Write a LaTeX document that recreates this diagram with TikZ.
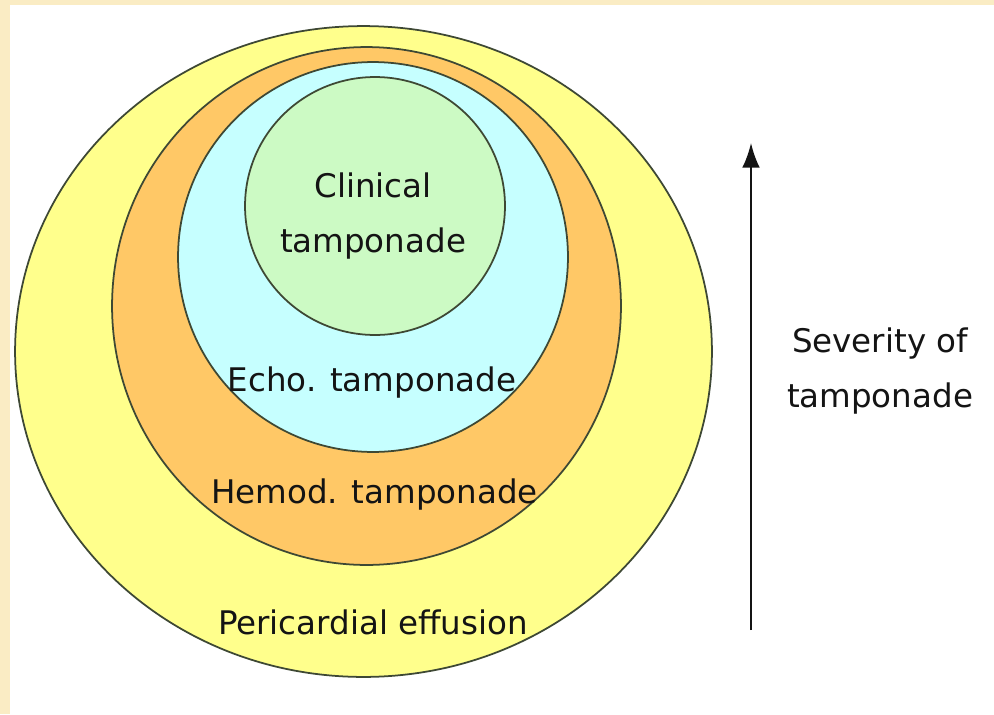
\documentclass[tikz,border=0pt]{standalone}
\usepackage{fontspec}
\setmainfont{DejaVu Sans}
\usepackage{tikz}
\usetikzlibrary{shapes.geometric,arrows.meta}

\definecolor{frame}{RGB}{250,236,196}
\definecolor{rim}{RGB}{62,72,52}
\definecolor{effusion}{RGB}{255,255,140}
\definecolor{hemod}{RGB}{255,200,102}
\definecolor{echo}{RGB}{198,255,255}
\definecolor{clinical}{RGB}{204,250,196}
\definecolor{ink}{RGB}{20,20,20}

\begin{document}
\begin{tikzpicture}[x=0.02cm,y=-0.02cm,
  band/.style={ellipse,draw=rim,line width=1pt,inner sep=0pt},
  lbl/.style={font=\fontsize{18.5}{31}\selectfont,text=ink,align=center,inner sep=0pt}]

  % ---------- page ----------
  \fill[frame] (0,0) rectangle (994,714);
  \fill[white] (10,5) rectangle (994,714);
  \useasboundingbox (0,0) rectangle (994,714);

  % ---------- nested ellipses ----------
  \node[band,fill=effusion,minimum width=13.94cm,minimum height=13.02cm] (effusion) at (363.5,351.5) {};
  \node[band,fill=hemod,minimum width=10.18cm,minimum height=10.36cm] (hemod) at (366.5,306) {};
  \node[band,fill=echo,minimum width=7.80cm,minimum height=7.80cm] (echo) at (373,257) {};
  \node[band,fill=clinical,minimum width=5.20cm,minimum height=5.16cm] (clinical) at (375,206) {};

  % ---------- labels ----------
  \node[lbl] (clinicaltxt) at (373,216) {Clinical\\tamponade};
  \node[lbl] (echotxt) at (372,383) {Echo. tamponade};
  \node[lbl] (hemodtxt) at (374.5,495) {Hemod. tamponade};
  \node[lbl] (effusiontxt) at (373,622) {Pericardial effusion};

  % ---------- severity arrow ----------
  \coordinate (low) at (751,630);
  \coordinate (high) at (751,143);
  \draw[line width=1.1pt,draw=ink,-{Latex[length=14pt,width=10pt]}] (low) -- (high);
  \node[lbl] (severity) at (880,371) {Severity of\\tamponade};

\end{tikzpicture}
\end{document}
